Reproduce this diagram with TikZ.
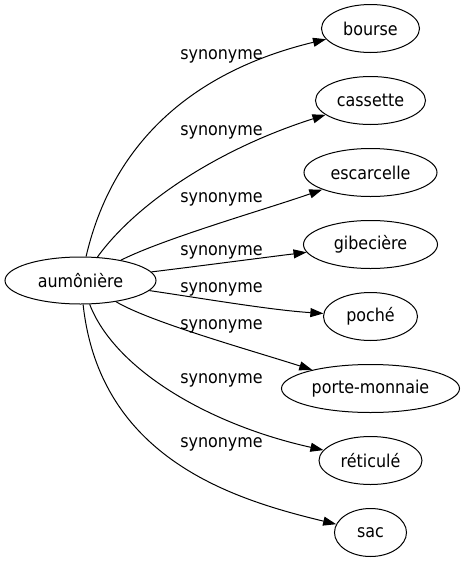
\documentclass[tikz,border=0pt]{standalone}
\usepackage{fontspec}
\setmainfont{DejaVu Sans Condensed}
\usetikzlibrary{arrows.meta,shapes.geometric}
\begin{document}
\begin{tikzpicture}[x=1pt,y=-1pt,
  every node/.style={font=\fontsize{17.7}{21}\selectfont},
  term/.style={draw, ellipse, line width=1pt, inner sep=0pt, minimum height=48pt},
  lbl/.style={anchor=base, inner sep=0pt},
  rel/.style={draw, line width=1pt, -{Triangle[length=13pt,width=9pt]}}]
\useasboundingbox (0,0) rectangle (465,563);
\node[term, minimum width=151pt, minimum height=47pt] (a) at (80.5,280.5) {aumônière};
\node[term, minimum width=98pt]  (b1) at (370.5,28.5)  {bourse};
\node[term, minimum width=110pt] (b2) at (370.5,100.5) {cassette};
\node[term, minimum width=133pt] (b3) at (370.5,172.5) {escarcelle};
\node[term, minimum width=134pt] (b4) at (370.5,244.5) {gibecière};
\node[term, minimum width=94pt]  (b5) at (370.5,316.5) {poché};
\node[term, minimum width=178pt] (b6) at (370.5,388.5) {porte-monnaie};
\node[term, minimum width=103pt] (b7) at (370.5,460.5) {réticulé};
\node[term, minimum width=72pt]  (b8) at (370.5,532.5) {sac};
\draw[rel] (a) .. controls (112,145) and (190,72) .. (b1);
\draw[rel] (a) .. controls (135,205) and (215,150) .. (b2);
\draw[rel] (a) .. controls (165,238) and (270,208) .. (b3);
\draw[rel] (a) .. controls (200,266) and (260,258) .. (b4);
\draw[rel] (a) .. controls (200,298) and (270,310) .. (b5);
\draw[rel] (a) .. controls (150,322) and (250,350) .. (b6);
\draw[rel] (a) .. controls (115,370) and (210,425) .. (b7);
\draw[rel] (a) .. controls (100,460) and (236,500) .. (b8);
\node[lbl] (l1) at (221.5,59)  {synonyme};
\node[lbl] (l2) at (221.5,135) {synonyme};
\node[lbl] (l3) at (221.5,202) {synonyme};
\node[lbl] (l4) at (221.5,255) {synonyme};
\node[lbl] (l5) at (221.5,292) {synonyme};
\node[lbl] (l6) at (221.5,329) {synonyme};
\node[lbl] (l7) at (221.5,383) {synonyme};
\node[lbl] (l8) at (221.5,447) {synonyme};
\end{tikzpicture}
\end{document}
